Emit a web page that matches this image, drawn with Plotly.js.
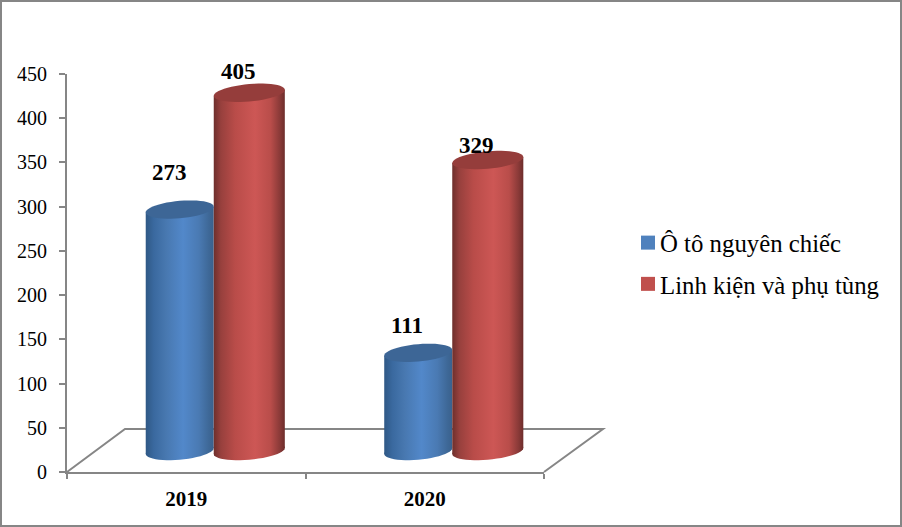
<!DOCTYPE html>
<html>
<head>
<meta charset="utf-8">
<script src="https://cdn.plot.ly/plotly-3.0.1.min.js"></script>
<style>
html,body{margin:0;padding:0;background:#fff;overflow:hidden}
#wrap{position:relative;width:902px;height:527px}
#chart{width:902px;height:527px}
#frame{position:absolute;left:0;top:0;width:898px;height:523px;border:2px solid #868686;pointer-events:none}
</style>
</head>
<body>
<div id="wrap"><div id="chart"></div><div id="frame"></div></div>
<script>
const categories = ['2019', '2020'];
const seriesNames = ['Ô tô nguyên chiếc', 'Linh kiện và phụ tùng'];
const imported = [273, 111];
const parts = [405, 329];
const yTicks = [0, 50, 100, 150, 200, 250, 300, 350, 400, 450];
// hand-placed label nudges of the reference, in pixels: [dx, dy]
const importedLabelNudge = [[-10, 37], [-11, 27]];
const partsLabelNudge = [[-10.5, 21], [-11.5, 15]];

const FONT = '"Liberation Serif", "Times New Roman", serif';
const AXIS = '#868686';
// frame geometry in pixels
const L = 67, T = 53, W = 536, H = 419, AX_W = 477, AX_H = 398, DX = 29, DY = 21;
const pxPerUnit = AX_H / 450, pxPerCat = AX_W / 2;
const SLOPE = 0.085, ELL_B = 8.7;
// bar extents within a category, in category units
const blueBar = {offset:-0.2915, width:0.285};
const redBar = {offset:-0.0063, width:0.298};

function ellipse(cx, val, w) {
  const a = w * pxPerCat / 2;
  let d = '';
  for (let k = 0; k <= 48; k++) {
    const t = k / 48 * 2 * Math.PI, dx = a * Math.cos(t), dy = ELL_B * Math.sin(t) + SLOPE * dx;
    d += (k ? 'L' : 'M') + (cx + dx / pxPerCat).toFixed(5) + ',' + (val + dy / pxPerUnit).toFixed(3);
  }
  return d + 'Z';
}
const BLUE = '#4f81bd', RED = '#c0504d', BLUE_TOP = '#3d6696', RED_TOP = '#953d3b';
const shapes = [
  {type:'path', xref:'paper', yref:'paper', layer:'below',
   path:`M0,0L${58/W},${43/H}L1,${43/H}L${AX_W/W},0`,
   line:{color:AXIS, width:2}, fillcolor:'rgba(0,0,0,0)'}
];
const annotations = [];
[[imported, blueBar, BLUE, BLUE_TOP, importedLabelNudge], [parts, redBar, RED, RED_TOP, partsLabelNudge]].forEach(([vals, bar, col, top, nudge]) => {
  const off = bar.offset + bar.width / 2;
  vals.forEach((v, i) => {
    shapes.push({type:'path', xref:'x2', yref:'y2', layer:'below', path:ellipse(i + off, 0, bar.width), fillcolor:col, line:{width:0}});
    shapes.push({type:'path', xref:'x2', yref:'y2', layer:'above', path:ellipse(i + off, v, bar.width), fillcolor:top, line:{width:0}});
    annotations.push({xref:'x2', yref:'y2', x:i + off, y:v, text:String(v), showarrow:false,
      xshift:nudge[i][0], yshift:nudge[i][1], xanchor:'center', yanchor:'middle',
      font:{family:FONT, size:23, color:'#000', weight:'bold'}});
  });
});

const traces = [
  {type:'scatter', mode:'none', x:categories, y:[null, null], xaxis:'x', yaxis:'y', showlegend:false, hoverinfo:'skip'},
  {type:'bar', name:seriesNames[0], x:categories, y:imported, xaxis:'x2', yaxis:'y2', marker:{color:BLUE}, legendgroup:'a', offset:blueBar.offset, width:blueBar.width},
  {type:'bar', name:seriesNames[1], x:categories, y:parts, xaxis:'x2', yaxis:'y2', marker:{color:RED}, legendgroup:'b', offset:redBar.offset, width:redBar.width}
];
const layout = {
  width:902, height:527, paper_bgcolor:'#fff', plot_bgcolor:'rgba(0,0,0,0)',
  margin:{l:L, t:T, r:902-L-W, b:527-T-H, pad:0, autoexpand:false},
  font:{family:FONT, color:'#000'},
  barmode:'overlay',
  xaxis:{type:'category', domain:[0, AX_W/W], anchor:'y', range:[-0.5, 1.5], categoryorder:'array', categoryarray:categories,
    tickson:'boundaries', ticks:'outside', ticklen:5, tickwidth:2, tickcolor:AXIS,
    showline:true, linecolor:AXIS, linewidth:2, showgrid:false, zeroline:false, ticklabelstandoff:7,
    tickfont:{family:FONT, size:21, color:'#000', weight:'bold'}},
  yaxis:{domain:[0, AX_H/H], anchor:'x', range:[0, 450], tickmode:'array', tickvals:yTicks,
    ticks:'outside', ticklen:6, tickwidth:2, tickcolor:AXIS, showline:true, linecolor:AXIS, linewidth:2,
    showgrid:false, zeroline:false, ticklabelstandoff:8, tickfont:{family:FONT, size:20, color:'#000'}},
  xaxis2:{type:'category', domain:[DX/W, (DX+AX_W)/W], anchor:'y2', range:[-0.5, 1.5], categoryorder:'array', categoryarray:categories, visible:false},
  yaxis2:{domain:[0, 1], anchor:'x2', range:[-DY/pxPerUnit, 450], visible:false},
  legend:{x:(636-L)/W, y:(472-263.5)/H, xref:'paper', yref:'paper', xanchor:'left', yanchor:'middle',
    tracegroupgap:6, font:{family:FONT, size:24.8, color:'#000'}, bgcolor:'rgba(0,0,0,0)', itemclick:false, itemdoubleclick:false},
  shapes, annotations, showlegend:true
};
Plotly.newPlot('chart', traces, layout, {displayModeBar:false, staticPlot:true}).then(gd => {
  const svg = gd.querySelector('svg.main-svg');
  const NS = 'http://www.w3.org/2000/svg';
  const defs = svg.querySelector('defs') || svg.insertBefore(document.createElementNS(NS,'defs'), svg.firstChild);
  function grad(id, stops) {
    const g = document.createElementNS(NS, 'linearGradient');
    g.setAttribute('id', id);
    g.setAttribute('x1','0'); g.setAttribute('x2','1'); g.setAttribute('y1','0'); g.setAttribute('y2','0');
    stops.forEach(([o, c]) => {
      const s = document.createElementNS(NS, 'stop');
      s.setAttribute('offset', o); s.setAttribute('stop-color', c); g.appendChild(s);
    });
    defs.appendChild(g);
  }
  grad('gBlue', [[0,'#2f5885'],[0.12,'#3a699f'],[0.3,'#4878b0'],[0.55,'#5288ca'],[0.78,'#4a7ab3'],[0.93,'#3e6897'],[1,'#3a618d']]);
  grad('gRed', [[0,'#6e2f2c'],[0.1,'#97403d'],[0.3,'#b94c49'],[0.58,'#cd5755'],[0.8,'#b94d4a'],[0.93,'#8a3a38'],[1,'#6d2d2b']]);
  gd.querySelectorAll('.barlayer .trace').forEach((tr, idx) => {
    tr.querySelectorAll('.point path').forEach(p => {
      p.style.fill = idx === 0 ? 'url(#gBlue)' : 'url(#gRed)';
      const b = p.getBBox(), cx = b.x + b.width / 2, cy = b.y + b.height;
      const deg = -Math.atan(SLOPE) * 180 / Math.PI;
      p.setAttribute('transform', `translate(${cx},${cy}) skewY(${deg}) translate(${-cx},${-cy})`);
    });
  });
  const rgb = h => 'rgb(' + [1,3,5].map(i => parseInt(h.substr(i,2),16)).join(', ') + ')';
  gd.querySelectorAll('.shapelayer path').forEach(p => {
    if (p.style.fill === rgb(BLUE)) p.style.fill = 'url(#gBlue)';
    else if (p.style.fill === rgb(RED)) p.style.fill = 'url(#gRed)';
  });
  // tighten the gap between legend swatch and label as in the reference
  gd.querySelectorAll('.legend .legendtext').forEach(t => { t.setAttribute('x', 24); });
  gd.querySelectorAll('.legend .legendpoints path').forEach(p => {
    p.setAttribute('d', 'M7,7H-7V-7H7Z');
    p.setAttribute('transform', 'translate(12,0)');
  });
});
</script>
</body>
</html>
